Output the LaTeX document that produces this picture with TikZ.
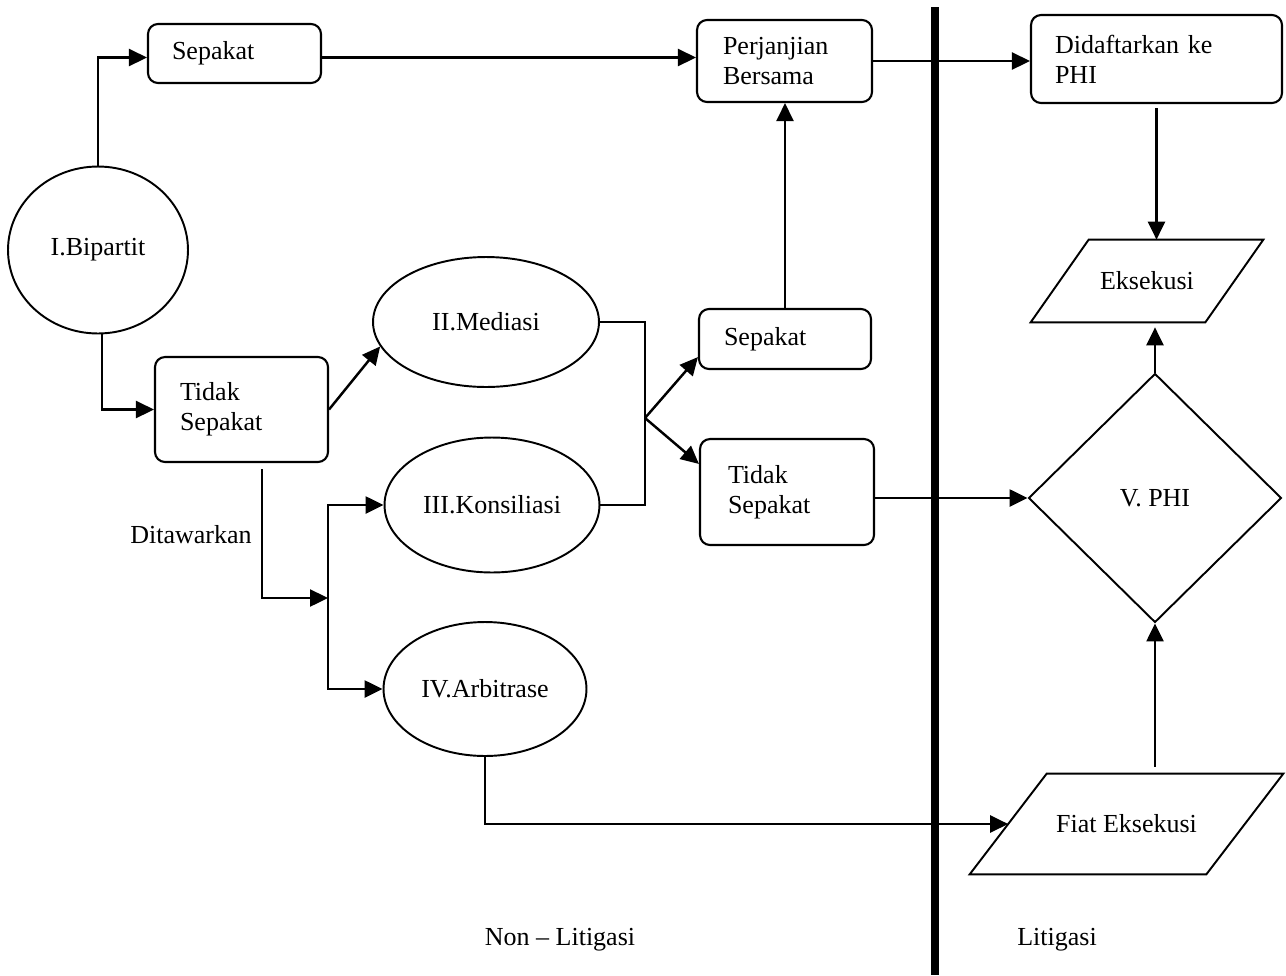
\documentclass[tikz,border=0pt]{standalone}
\usepackage{fontspec}
\setmainfont{Liberation Serif}
\usetikzlibrary{shapes.geometric,arrows.meta}

\begin{document}
\begin{tikzpicture}[x=0.02cm, y=-0.02cm, font=\fontsize{14.8}{17}\selectfont,
  kotak/.style = {draw, rounded corners=0.2cm, line width=1.2pt, align=left, inner ysep=0pt},
  elips/.style = {draw, ellipse, line width=1.1pt, inner sep=0pt},
  panah/.style = {line width=1.4pt, -{Triangle[length=0.36cm,width=0.34cm]}},
  garis/.style = {line width=1.4pt},]

\useasboundingbox (0,0) rectangle (1286,975);

% non litigasi
\node[elips, minimum width=3.6cm, minimum height=3.34cm] (bip) at (98,250) {I.Bipartit};
\node[kotak, text width=2.5cm, inner xsep=0.48cm, minimum height=1.18cm] (sep1) at (234.5,53.5) {Sepakat};
\node[kotak, text width=2.46cm, inner xsep=0.5cm, minimum height=2.1cm] (tsk1) at (241.5,409.5) {Tidak\\Sepakat};
\node[elips, minimum width=4.52cm, minimum height=2.6cm] (med) at (486,322) {II.Mediasi};
\node[elips, minimum width=4.3cm, minimum height=2.7cm] (kon) at (492,505) {III.Konsiliasi};
\node[elips, minimum width=4.06cm, minimum height=2.68cm] (arb) at (485,689) {IV.Arbitrase};
\node[kotak, text width=2.46cm, inner xsep=0.52cm, minimum height=1.64cm] (pb) at (784.5,61) {Perjanjian\\Bersama};
\node[kotak, text width=2.44cm, inner xsep=0.5cm, minimum height=1.2cm] (sep2) at (785,339) {Sepakat};
\node[kotak, text width=2.36cm, inner xsep=0.56cm, minimum height=2.12cm] (tsk2) at (787,492) {Tidak\\Sepakat};

% litigasi
\node[kotak, text width=4.06cm, inner xsep=0.48cm, minimum height=1.76cm] (dk) at (1156.5,59) {Didaftarkan ke\\PHI};
\node[minimum width=4.64cm, minimum height=1.64cm] (eks) at (1147,281) {Eksekusi};
\node[draw, diamond, line width=1.1pt, inner sep=0pt, minimum width=5.06cm, minimum height=4.98cm] (phi) at (1155,498) {V. PHI};
\node[minimum width=6.26cm, minimum height=2cm] (fiat) at (1126.5,824) {Fiat Eksekusi};
\draw[line width=1.1pt] ([xshift=1.16cm]eks.north west) -- (eks.north east) -- ([xshift=-1.16cm]eks.south east) -- (eks.south west) -- cycle;
\draw[line width=1.1pt] ([xshift=1.54cm]fiat.north west) -- (fiat.north east) -- ([xshift=-1.54cm]fiat.south east) -- (fiat.south west) -- cycle;

\node (ditawarkan) at (191,535) {Ditawarkan};
\node (nonlit) at (560,940) {Non – Litigasi};
\node (lit) at (1057,940) {Litigasi};

\coordinate (cabang) at (328,598);
\coordinate (simpul) at (645,418);
\coordinate (batasatas) at (935,7);
\coordinate (batasbawah) at (935,975);

\draw[line width=4pt] (batasatas) -- (batasbawah);

\draw[panah] (bip.north) |- ([yshift=-0.08cm]sep1.west);
\draw[panah] ([xshift=0.08cm]bip.south) |- (tsk1.west);
\draw[panah] ([yshift=-0.08cm]sep1.east) -- ([yshift=-0.08cm]sep1.east -| pb.west);
\draw[panah] (pb.east) -- (pb.east -| dk.west);
\draw[panah] (tsk1.east) -- (med.193);
\draw[panah] ([xshift=0.41cm,yshift=-0.12cm]tsk1.south) |- (cabang);
\draw[panah] (cabang) |- (kon.west);
\draw[panah] (cabang) |- (arb.west);
\draw[garis] (med.east) -| (simpul) |- (kon.east);
\draw[panah] (simpul) -- ([yshift=0.26cm]sep2.south west);
\draw[panah] (simpul) -- ([yshift=-0.52cm]tsk2.north west);
\draw[panah] (sep2.north) -- (sep2.north |- pb.south);
\draw[panah] (tsk2.east |- phi.west) -- (phi.west);
\draw[panah] ([yshift=-0.08cm]dk.south) -- (dk.south |- eks.north);
\draw[panah] (phi.north) -- ([yshift=-0.1cm]phi.north |- eks.south);
\draw[panah] ([yshift=0.14cm]fiat.north -| phi.south) -- (phi.south);
\draw[panah] (arb.south) |- ([xshift=0.77cm]fiat.west);

\end{tikzpicture}
\end{document}
